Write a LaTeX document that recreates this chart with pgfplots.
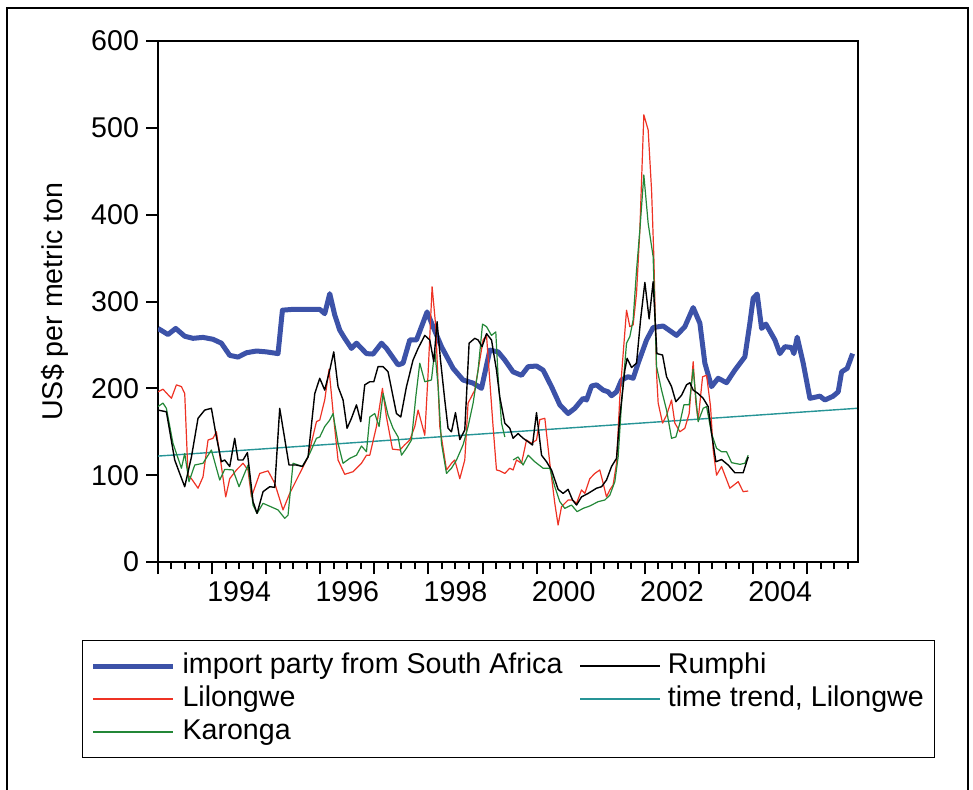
\documentclass[border=0pt]{standalone}
\usepackage{fontspec}
\setmainfont{Liberation Sans}
\usepackage{pgfplots}
\pgfplotsset{compat=1.18}
\definecolor{impblue}{RGB}{60,82,168}
\definecolor{lilred}{RGB}{238,50,36}
\definecolor{kargreen}{RGB}{35,135,55}
\definecolor{trendteal}{RGB}{38,148,150}
\newcommand{\chartfont}{\fontsize{14.3}{17}\selectfont}
\begin{document}
\begin{tikzpicture}
\path[use as bounding box] (0,0) rectangle (486.5pt,394.5pt);
\draw[line width=1.1pt] (3.5pt,-2pt) -- (3.5pt,390.5pt) -- (484pt,390.5pt) -- (484pt,-2pt);
\begin{axis}[
  at={(79pt,113.5pt)}, anchor=south west,
  scale only axis, width=350pt, height=260.5pt,
  xmin=1993, xmax=2005.94, ymin=0, ymax=600,
  ytick={0,100,...,600},
  xtick distance=1, xticklabels={},
  minor x tick num=3,
  extra x ticks={1994.5,1996.5,1998.5,2000.5,2002.5,2004.5},
  extra x tick labels={1994,1996,1998,2000,2002,2004},
  extra x tick style={tick style={draw=none}},
  tick pos=left, tick align=outside,
  major tick length=6pt, minor tick length=3.5pt,
  tick style={black, line width=1pt},
  axis line style={line width=1pt},
  /pgf/number format/assume math mode=true,
  tick label style={font=\chartfont},
  ylabel={US\$ per metric ton},
  ylabel style={font=\chartfont, at={(axis description cs:-0.148,0.5)}, anchor=center},
  unbounded coords=jump,
  legend columns=2,
  legend cell align=left,
  legend image code/.code={\draw[#1] (0pt,0pt) -- (40pt,0pt);},
  legend style={at={(-0.1086,-0.1497)}, anchor=north west, draw=black, line width=0.6pt,
    font=\chartfont, inner xsep=4pt, inner ysep=4.5pt,
    nodes={inner sep=1.5pt, text height=10.5pt, text depth=3pt},
    /tikz/every odd column/.append style={column sep=2pt},
    /tikz/every even column/.append style={column sep=7pt}},
]
% import parity from South Africa
\addplot[forget plot, impblue, line width=2.5pt, line join=round] coordinates {
(1993.000,269) (1993.185,262) (1993.327,269) (1993.494,260) (1993.647,257.6) (1993.832,258.7) (1994.017,256.5) (1994.172,252) (1994.326,238) (1994.479,236) (1994.635,241) (1994.820,243) (1995.004,242) (1995.219,240) (1995.300,290) (1995.496,291) (1995.990,291) (1996.082,286) (1996.175,309) (1996.267,284.5) (1996.360,267) (1996.452,257.6) (1996.576,246) (1996.669,252) (1996.854,240) (1996.976,239.5) (1997.131,252) (1997.223,246) (1997.438,227) (1997.530,229) (1997.654,255.7) (1997.778,255.7) (1997.871,271) (1997.974,288) (1998.085,271) (1998.240,248) (1998.455,223) (1998.640,209.6) (1998.825,206) (1998.980,200) (1999.134,244) (1999.287,242) (1999.411,232.6) (1999.564,219) (1999.720,215) (1999.842,225) (1999.997,225.7) (2000.119,221) (2000.274,202) (2000.428,181) (2000.581,171) (2000.705,177) (2000.859,188.5) (2000.922,186.6) (2001.014,202.7) (2001.107,204) (2001.229,198) (2001.321,196) (2001.384,191.5) (2001.476,196) (2001.569,209.6) (2001.691,213.4) (2001.783,211.6) (2001.876,229) (2002.031,255.7) (2002.153,270) (2002.338,271.8) (2002.586,261) (2002.739,271) (2002.893,293) (2003.017,275) (2003.109,229) (2003.233,202) (2003.355,211.6) (2003.510,206.5) (2003.664,221) (2003.849,236.4) (2003.941,275) (2004.002,303.7) (2004.076,308.6) (2004.158,269) (2004.237,274) (2004.404,255.7) (2004.496,240) (2004.589,248) (2004.712,247) (2004.755,240) (2004.816,259) (2004.927,229) (2005.051,188.5) (2005.236,191) (2005.328,186.6) (2005.481,191) (2005.574,196) (2005.637,219) (2005.740,223) (2005.840,240)
};
% time trend, Lilongwe
\addplot[forget plot, trendteal, line width=0.7pt] coordinates {(1993.0,122) (2005.92,177)};
% Lilongwe
\addplot[forget plot, lilred, line width=0.6pt, line join=round] coordinates {
(1993.000,196) (1993.092,199) (1993.248,188.5) (1993.340,204) (1993.433,202) (1993.494,194) (1993.555,100) (1993.618,96) (1993.740,85) (1993.832,98) (1993.925,140.5) (1994.017,142.5) (1994.080,150) (1994.172,110) (1994.252,75) (1994.326,96) (1994.450,106) (1994.572,113.7) (1994.664,106) (1994.727,75) (1994.881,102) (1995.034,105) (1995.158,90.6) (1995.311,60) (1995.435,79) (1995.620,102) (1995.774,121) (1995.929,161.6) (1995.990,163.5) (1996.082,186.6) (1996.162,222) (1996.236,173) (1996.328,117.5) (1996.452,101) (1996.606,104) (1996.761,113.7) (1996.854,123) (1996.915,123) (1997.038,156) (1997.149,200) (1997.223,167) (1997.334,130) (1997.469,129) (1997.562,135) (1997.654,140.5) (1997.747,156) (1997.808,175) (1997.932,146) (1997.993,217) (1998.067,317) (1998.135,271) (1998.209,156) (1998.333,106) (1998.425,113.7) (1998.486,117.5) (1998.579,96) (1998.671,117.5) (1998.732,183) (1998.856,198) (1999.010,255.7) (1999.073,261) (1999.194,156) (1999.257,106) (1999.318,105) (1999.411,102) (1999.503,108) (1999.564,106) (1999.627,117.5) (1999.720,113.7) (1999.812,140.5) (1999.905,136.7) (1999.997,140.5) (2000.058,164) (2000.151,165.5) (2000.243,113.7) (2000.335,67.6) (2000.396,42.6) (2000.459,63.7) (2000.520,67.6) (2000.581,71.4) (2000.663,71.4) (2000.737,67.6) (2000.829,83) (2000.890,79) (2000.982,96) (2001.075,102) (2001.167,106) (2001.229,90.6) (2001.291,75) (2001.352,83) (2001.413,88.7) (2001.476,113.7) (2001.537,190) (2001.661,290) (2001.722,271) (2001.783,273) (2001.846,309.5) (2001.907,382) (2001.981,515) (2002.061,497.5) (2002.124,428) (2002.166,351.6) (2002.216,217) (2002.246,183) (2002.327,160) (2002.401,169) (2002.493,186.6) (2002.554,160) (2002.647,150) (2002.739,154) (2002.819,171) (2002.893,230.7) (2002.943,183) (2002.985,163.5) (2003.067,213.4) (2003.141,215) (2003.214,179) (2003.263,129) (2003.325,100) (2003.418,110) (2003.571,85) (2003.725,92.5) (2003.817,81) (2003.910,81.8)
};
% Karonga
\addplot[forget plot, kargreen, line width=0.6pt, line join=round] coordinates {
(1993.000,179) (1993.092,183) (1993.155,177) (1993.277,136.7) (1993.433,108) (1993.494,125) (1993.573,92.5) (1993.679,111.7) (1993.832,113.7) (1993.987,129) (1994.141,94.4) (1994.233,106.7) (1994.387,106) (1994.498,86.7) (1994.664,111.7) (1994.757,65.6) (1994.831,56) (1994.942,67.6) (1995.219,60) (1995.343,50.3) (1995.404,54) (1995.496,113.7) (1995.670,110) (1995.805,125) (1995.929,142.5) (1995.990,144) (1996.082,156) (1996.175,163.5) (1996.236,171) (1996.328,136.7) (1996.421,113.7) (1996.545,119.4) (1996.669,123) (1996.761,133.6) (1996.854,127) (1996.915,167) (1997.007,171) (1997.087,156) (1997.161,194) (1997.253,169) (1997.345,154) (1997.438,144) (1997.501,123) (1997.593,131) (1997.686,140.5) (1997.765,190) (1997.839,229) (1997.932,207.6) (1998.055,209.6) (1998.116,244) (1998.178,202) (1998.240,136.7) (1998.333,102) (1998.425,108) (1998.518,117.5) (1998.640,135) (1998.732,156) (1998.825,183) (1998.917,221) (1998.999,274) (1999.073,271) (1999.165,261) (1999.244,265) (1999.287,213.4) (1999.350,160) (1999.411,144) (1999.490,nan) (1999.564,117.5) (1999.657,121) (1999.749,111.7) (1999.842,123) (1999.965,115.5) (2000.119,108) (2000.243,108) (2000.335,86.7) (2000.428,69.5) (2000.520,61.8) (2000.644,65.6) (2000.748,58) (2000.859,61.8) (2000.982,64.5) (2001.136,69.5) (2001.260,71.4) (2001.352,77) (2001.445,92.5) (2001.506,121) (2001.569,183) (2001.661,252) (2001.722,259.5) (2001.783,278.7) (2001.846,336) (2001.907,382) (2001.981,445.7) (2002.061,390) (2002.153,351.6) (2002.216,225) (2002.308,198) (2002.401,175) (2002.493,142.5) (2002.573,144) (2002.647,160) (2002.721,181) (2002.819,181) (2002.893,222) (2002.985,161.6) (2003.078,177) (2003.141,179) (2003.233,148) (2003.325,131) (2003.418,127) (2003.510,127) (2003.603,114.4) (2003.756,112.5) (2003.849,113.7) (2003.910,123)
};
% Rumphi
\addplot[forget plot, black, line width=0.7pt, line join=round] coordinates {
(1993.000,175) (1993.155,173) (1993.309,117.5) (1993.401,102) (1993.494,86.7) (1993.618,121) (1993.740,165.5) (1993.864,175) (1993.987,177) (1994.080,144) (1994.172,115.5) (1994.233,117.5) (1994.326,110) (1994.418,142.5) (1994.479,117.5) (1994.572,117.5) (1994.653,126) (1994.757,69.5) (1994.831,56) (1994.942,81) (1995.065,86.7) (1995.158,86) (1995.250,177) (1995.422,111.7) (1995.559,111.7) (1995.670,110) (1995.774,121) (1995.898,194) (1995.990,211.6) (1996.082,198) (1996.175,221) (1996.249,242) (1996.328,202) (1996.421,186.6) (1996.495,154) (1996.576,165.5) (1996.669,181) (1996.748,161.6) (1996.822,204) (1996.915,207.6) (1996.989,207.6) (1997.068,225) (1997.161,225) (1997.253,219) (1997.408,171) (1997.488,167) (1997.593,202) (1997.715,232.6) (1997.808,246) (1997.932,261) (1998.024,255.7) (1998.098,230.7) (1998.159,276.7) (1998.222,232.6) (1998.301,186.6) (1998.362,154) (1998.425,150) (1998.499,172) (1998.579,141) (1998.671,152) (1998.751,252) (1998.856,257.6) (1998.917,255.7) (1998.991,248) (1999.073,263) (1999.165,255.7) (1999.257,221) (1999.318,190) (1999.411,160) (1999.503,154) (1999.564,142.5) (1999.657,148) (1999.749,142.5) (1999.842,138.5) (1999.923,134.7) (1999.997,172) (2000.090,123) (2000.182,115.5) (2000.274,106) (2000.396,83.7) (2000.489,79) (2000.581,83.7) (2000.663,71.4) (2000.737,65.6) (2000.829,75) (2000.951,79) (2001.107,85) (2001.199,86.7) (2001.291,94.4) (2001.384,110) (2001.476,119.4) (2001.537,167) (2001.630,221) (2001.672,234.6) (2001.754,224) (2001.846,229) (2001.920,278.7) (2002.000,322) (2002.079,280) (2002.153,322.8) (2002.222,240) (2002.327,238.4) (2002.401,213.4) (2002.493,202) (2002.573,184.6) (2002.678,192) (2002.770,204) (2002.832,206.5) (2002.893,198) (2002.985,194) (2003.078,188.5) (2003.170,179) (2003.233,148) (2003.313,115.5) (2003.418,118) (2003.540,111.7) (2003.664,102.8) (2003.817,102.8) (2003.910,121)
};
\addlegendimage{impblue, line width=2.5pt}
\addlegendentry{import party from South Africa}
\addlegendimage{black, line width=0.7pt}
\addlegendentry{Rumphi}
\addlegendimage{lilred, line width=0.7pt}
\addlegendentry{Lilongwe}
\addlegendimage{trendteal, line width=0.7pt}
\addlegendentry{time trend, Lilongwe}
\addlegendimage{kargreen, line width=0.7pt}
\addlegendentry{Karonga}
\end{axis}
\end{tikzpicture}
\end{document}
